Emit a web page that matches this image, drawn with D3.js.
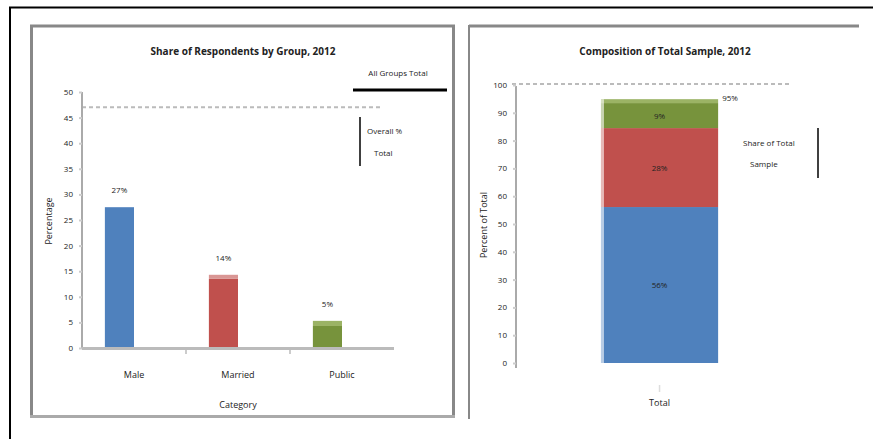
<!DOCTYPE html>
<html>
<head>
<meta charset="utf-8">
<script src="https://cdn.jsdelivr.net/npm/d3@7/dist/d3.min.js"></script>
<style>
  html, body { margin: 0; padding: 0; background: #fff; }
  svg { display: block; }
  text { font-family: "Open Sans", "Liberation Sans", sans-serif; fill: #222; }
</style>
</head>
<body>
<svg id="chart" width="873" height="439"></svg>
<script>
// ---------- data ----------
const leftTitle = "Share of Respondents by Group, 2012";
const leftCategories = ["Male", "Married", "Public"];
const leftValues = [27.5, 13.5, 4.3];
const leftTopValues = [0, 0.8, 1.0];
const leftLabels = ["27%", "14%", "5%"];
const leftTicks = [0, 5, 10, 15, 20, 25, 30, 35, 40, 45, 50];
const leftTarget = 47;
const leftYTitle = "Percentage";
const leftXTitle = "Category";
const leftLegend = ["All Groups Total", "Overall %", "Total"];

const rightTitle = "Composition of Total Sample, 2012";
const rightCategories = ["Total"];
const rightSegments = ["Male", "Married", "Public"];
const rightValues = [56.1, 28.4, 9.0];
const rightTopValue = 1.4;
const rightLabels = ["56%", "28%", "9%"];
const rightTotalLabel = "95%";
const rightTicks = [0, 10, 20, 30, 40, 50, 60, 70, 80, 90, 100];
const rightTarget = 100;
const rightYTitle = "Percent of Total";
const rightNote = ["Share of Total", "Sample"];

const colors = ["#4f81bd", "#c0504d", "#77933c"];
const lightColors = ["#a7c0de", "#d99694", "#9bb365"];

const svg = d3.select("#chart");

// ---------- frames ----------
svg.append("line").attr("x1", 9).attr("x2", 873).attr("y1", 7.5).attr("y2", 7.5)
  .attr("stroke", "#000").attr("stroke-width", 2);
svg.append("line").attr("x1", 10).attr("x2", 10).attr("y1", 7).attr("y2", 439)
  .attr("stroke", "#000").attr("stroke-width", 2);

// left panel border
svg.append("line").attr("x1", 30).attr("x2", 455).attr("y1", 26).attr("y2", 26).attr("stroke", "#888").attr("stroke-width", 3);
svg.append("line").attr("x1", 31.5).attr("x2", 31.5).attr("y1", 25).attr("y2", 418).attr("stroke", "#888").attr("stroke-width", 3);
svg.append("line").attr("x1", 453.5).attr("x2", 453.5).attr("y1", 25).attr("y2", 418).attr("stroke", "#888").attr("stroke-width", 3);
svg.append("line").attr("x1", 30).attr("x2", 455).attr("y1", 416.5).attr("y2", 416.5).attr("stroke", "#aaa").attr("stroke-width", 3);
// right panel border
svg.append("line").attr("x1", 469).attr("x2", 859).attr("y1", 26).attr("y2", 26).attr("stroke", "#888").attr("stroke-width", 3);
svg.append("line").attr("x1", 469).attr("x2", 469).attr("y1", 25).attr("y2", 419).attr("stroke", "#888").attr("stroke-width", 2);

// ---------- left chart ----------
const yL = d3.scaleLinear().domain([0, 50]).range([348, 92]);
const xL = d3.scaleBand().domain(leftCategories).range([82, 394]);

svg.append("text").attr("x", 243).attr("y", 55).attr("text-anchor", "middle")
  .style("font-size", "10px").style("font-weight", "bold").text(leftTitle);

// target dashed line
svg.append("line").attr("x1", 82).attr("x2", 380).attr("y1", yL(leftTarget)).attr("y2", yL(leftTarget))
  .attr("stroke", "#bbb").attr("stroke-width", 2).attr("stroke-dasharray", "4,3");

// y axis
const gyL = svg.append("g").attr("transform", "translate(82,0)")
  .call(d3.axisLeft(yL).tickValues(leftTicks).tickSize(3).tickPadding(6));
gyL.select(".domain").attr("stroke", "#aaa").attr("stroke-width", 2).attr("d", "M0,348V92");
gyL.selectAll(".tick line").attr("stroke", "#ccc").attr("stroke-width", 2);
gyL.selectAll(".tick text").style("font-size", "8px").style("font-family", "Open Sans, sans-serif").attr("fill", "#333");

svg.append("text").attr("transform", "translate(52,221) rotate(-90)").attr("text-anchor", "middle")
  .style("font-size", "9px").text(leftYTitle);

// bars
const bw = xL.bandwidth();
svg.selectAll(".barL").data(leftCategories).enter().append("rect")
  .attr("x", d => xL(d) + bw * 0.22).attr("width", bw * 0.28)
  .attr("y", (d, i) => yL(leftValues[i])).attr("height", (d, i) => yL(0) - yL(leftValues[i]))
  .attr("fill", (d, i) => colors[i]);
svg.selectAll(".barLTop").data(leftCategories).enter().append("rect")
  .attr("x", d => xL(d) + bw * 0.22).attr("width", bw * 0.28)
  .attr("y", (d, i) => yL(leftValues[i] + leftTopValues[i]))
  .attr("height", (d, i) => yL(leftValues[i]) - yL(leftValues[i] + leftTopValues[i]))
  .attr("fill", (d, i) => lightColors[i]);
svg.selectAll(".lblL").data(leftCategories).enter().append("text")
  .attr("x", d => xL(d) + bw * 0.36).attr("y", (d, i) => yL(leftValues[i] + leftTopValues[i]) - 14)
  .attr("text-anchor", "middle").style("font-size", "8px").attr("fill", "#555")
  .text((d, i) => leftLabels[i]);

// x axis
svg.append("line").attr("x1", 82).attr("x2", 394).attr("y1", 348.5).attr("y2", 348.5)
  .attr("stroke", "#bbb").attr("stroke-width", 3);
svg.selectAll(".xtickL").data(leftCategories.slice(1)).enter().append("line")
  .attr("x1", d => xL(d)).attr("x2", d => xL(d)).attr("y1", 350).attr("y2", 354)
  .attr("stroke", "#ccc").attr("stroke-width", 2);
svg.selectAll(".xlblL").data(leftCategories).enter().append("text")
  .attr("x", d => xL(d) + bw / 2).attr("y", 378).attr("text-anchor", "middle")
  .style("font-size", "9px").text(d => d);
svg.append("text").attr("x", xL(leftCategories[1]) + bw / 2).attr("y", 408).attr("text-anchor", "middle")
  .style("font-size", "9px").text(leftXTitle);

// legend-like note
svg.append("text").attr("x", 398).attr("y", 76).attr("text-anchor", "middle")
  .style("font-size", "8px").text(leftLegend[0]);
svg.append("line").attr("x1", 353).attr("x2", 447).attr("y1", 90).attr("y2", 90)
  .attr("stroke", "#000").attr("stroke-width", 3);
svg.append("line").attr("x1", 360).attr("x2", 360).attr("y1", 117).attr("y2", 166)
  .attr("stroke", "#000").attr("stroke-width", 1.5);
svg.append("text").attr("x", 367).attr("y", 134).style("font-size", "8px").text(leftLegend[1]);
svg.append("text").attr("x", 374).attr("y", 156).style("font-size", "8px").text(leftLegend[2]);

// ---------- right chart ----------
const yR = d3.scaleLinear().domain([0, 100]).range([363, 85]);
const xR = d3.scaleBand().domain(rightCategories).range([516, 806]);

svg.append("text").attr("x", 665).attr("y", 55).attr("text-anchor", "middle")
  .style("font-size", "10px").style("font-weight", "bold").text(rightTitle);

svg.append("line").attr("x1", 512).attr("x2", 792).attr("y1", yR(rightTarget) - 1).attr("y2", yR(rightTarget) - 1)
  .attr("stroke", "#bbb").attr("stroke-width", 2).attr("stroke-dasharray", "4,3");

const gyR = svg.append("g").attr("transform", "translate(516,0)")
  .call(d3.axisLeft(yR).tickValues(rightTicks).tickSize(3).tickPadding(6));
gyR.select(".domain").attr("stroke", "#aaa").attr("stroke-width", 2).attr("d", "M0,368V86");
gyR.selectAll(".tick line").attr("stroke", "#ccc").attr("stroke-width", 2);
gyR.selectAll(".tick text").style("font-size", "8px").style("font-family", "Open Sans, sans-serif").attr("fill", "#333");

svg.append("text").attr("transform", "translate(487,225) rotate(-90)").attr("text-anchor", "middle")
  .style("font-size", "9px").text(rightYTitle);

const stackStarts = rightValues.map((v, i) => d3.sum(rightValues.slice(0, i)));
const bx = xR(rightCategories[0]) + xR.bandwidth() * 0.293;
const bwR = xR.bandwidth() * 0.404;
svg.selectAll(".segR").data(rightSegments).enter().append("rect")
  .attr("x", bx).attr("width", bwR)
  .attr("y", (d, i) => yR(stackStarts[i] + rightValues[i]))
  .attr("height", (d, i) => yR(stackStarts[i]) - yR(stackStarts[i] + rightValues[i]))
  .attr("fill", (d, i) => colors[i]);
const totalMain = d3.sum(rightValues);
svg.append("rect").attr("x", bx).attr("width", bwR)
  .attr("y", yR(totalMain + rightTopValue)).attr("height", yR(totalMain) - yR(totalMain + rightTopValue))
  .attr("fill", lightColors[2]);
// light left edge
svg.selectAll(".edgeR").data(rightSegments).enter().append("rect")
  .attr("x", bx).attr("width", 3)
  .attr("y", (d, i) => yR(stackStarts[i] + rightValues[i] + (i === 2 ? rightTopValue : 0)))
  .attr("height", (d, i) => yR(stackStarts[i]) - yR(stackStarts[i] + rightValues[i] + (i === 2 ? rightTopValue : 0)))
  .attr("fill", "#fff").attr("opacity", 0.6);
svg.selectAll(".lblR").data(rightSegments).enter().append("text")
  .attr("x", bx + bwR / 2).attr("y", (d, i) => yR(stackStarts[i] + rightValues[i] / 2) + 3)
  .attr("text-anchor", "middle").style("font-size", "8px").attr("fill", "#222")
  .text((d, i) => rightLabels[i]);
svg.append("text").attr("x", bx + bwR + 4).attr("y", yR(totalMain + rightTopValue) + 2)
  .style("font-size", "8px").text(rightTotalLabel);

// x axis (category)
svg.append("line").attr("x1", bx + bwR / 2).attr("x2", bx + bwR / 2).attr("y1", 385).attr("y2", 392)
  .attr("stroke", "#ddd").attr("stroke-width", 1.5);
svg.append("text").attr("x", bx + bwR / 2).attr("y", 406).attr("text-anchor", "middle")
  .style("font-size", "9px").text(rightCategories[0]);

// note
svg.append("text").attr("x", 743).attr("y", 146).style("font-size", "8px").text(rightNote[0]);
svg.append("text").attr("x", 750).attr("y", 167).style("font-size", "8px").text(rightNote[1]);
svg.append("line").attr("x1", 818).attr("x2", 818).attr("y1", 128).attr("y2", 178)
  .attr("stroke", "#000").attr("stroke-width", 1.5);
</script>
</body>
</html>
